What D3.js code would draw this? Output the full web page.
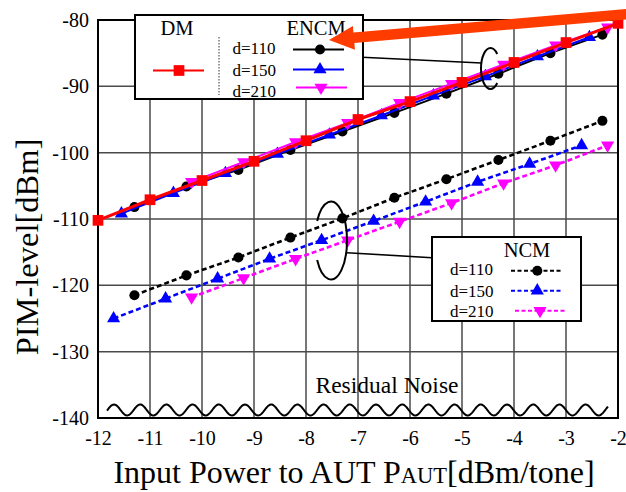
<!DOCTYPE html>
<html>
<head>
<meta charset="utf-8">
<script src="https://cdn.jsdelivr.net/npm/d3@7/dist/d3.min.js"></script>
<style>
  html, body { margin: 0; padding: 0; background: #fff; }
  svg { display: block; font-family: "Liberation Serif", "Times New Roman", serif; }
</style>
</head>
<body>
<svg id="chart" width="626" height="492"></svg>
<script>
// ---------------- data ----------------
const xTicks = [-12, -11, -10, -9, -8, -7, -6, -5, -4, -3, -2];
const yTicks = [-140, -130, -120, -110, -100, -90, -80];

const dmX = [-12, -11, -10, -9, -8, -7, -6, -5, -4, -3, -2];
const dmY = [-110.2, -107.1, -104.2, -101.3, -98.2, -95.0, -92.3, -89.4, -86.4, -83.4, -80.5];

const encm110X = [-11.3, -10.3, -9.3, -8.3, -7.3, -6.3, -5.3, -4.3, -3.3, -2.3];
const encm110Y = [-108.2, -105.1, -102.6, -99.6, -96.8, -94.0, -91.1, -88.1, -85.0, -82.2];
const encm150X = [-11.55, -10.55, -9.55, -8.55, -7.55, -6.55, -5.55, -4.55, -3.55, -2.55];
const encm150Y = [-109.2, -106.1, -103.1, -100.2, -97.3, -94.4, -91.4, -88.5, -85.5, -82.6];
const encm210X = [-10.2, -9.2, -8.2, -7.2, -6.2, -5.2, -4.2, -3.2, -2.2];
const encm210Y = [-104.4, -101.4, -98.4, -95.5, -92.5, -89.6, -86.7, -83.8, -81.1];

const ncm110X = [-11.3, -10.3, -9.3, -8.3, -7.3, -6.3, -5.3, -4.3, -3.3, -2.3];
const ncm110Y = [-121.5, -118.5, -115.8, -112.8, -109.9, -106.8, -104.0, -101.1, -98.2, -95.2];
const ncm150X = [-11.7, -10.7, -9.7, -8.7, -7.7, -6.7, -5.7, -4.7, -3.7, -2.7];
const ncm150Y = [-125.0, -122.0, -119.0, -116.0, -113.2, -110.3, -107.4, -104.4, -101.7, -98.9];
const ncm210X = [-10.2, -9.2, -8.2, -7.2, -6.2, -5.2, -4.2, -3.2, -2.2];
const ncm210Y = [-121.8, -118.9, -116.0, -113.2, -110.4, -107.6, -104.6, -101.9, -98.9];

const legendLabels = ["d=110", "d=150", "d=210"];

// ---------------- layout ----------------
const svg = d3.select("#chart");
const L = 98, R = 618, T = 20, B = 418;
const x = d3.scaleLinear().domain([-12, -2]).range([L, R]);
const y = d3.scaleLinear().domain([-140, -80]).range([B, T]);
const FONT = "'Liberation Serif', 'Times New Roman', serif";

const zip = (xs, ys) => xs.map((v, i) => [v, ys[i]]);

// grid
const grid = svg.append("g");
grid.selectAll("line.v").data(xTicks).join("line")
  .attr("x1", d => x(d)).attr("x2", d => x(d)).attr("y1", T).attr("y2", B)
  .attr("stroke", "#4a4a4a").attr("stroke-width", 1.5);
grid.selectAll("line.h").data(yTicks).join("line")
  .attr("x1", L).attr("x2", R).attr("y1", d => y(d)).attr("y2", d => y(d))
  .attr("stroke", "#4a4a4a").attr("stroke-width", 1.5);

// axes (labels only, via d3 axes)
const xAxis = svg.append("g").attr("transform", `translate(0,${B})`)
  .call(d3.axisBottom(x).tickValues(xTicks).tickSize(0).tickPadding(13).tickFormat(d => String(d)));
const yAxis = svg.append("g").attr("transform", `translate(${L},0)`)
  .call(d3.axisLeft(y).tickValues(yTicks).tickSize(0).tickPadding(9).tickFormat(d => String(d)));
[xAxis, yAxis].forEach(a => {
  a.select(".domain").remove();
  a.selectAll("text").attr("font-family", FONT).attr("font-size", 20).attr("fill", "#000");
});
xAxis.selectAll("text").attr("dy", "0.71em");

// frame
svg.append("rect").attr("x", L).attr("y", T).attr("width", R - L).attr("height", B - T)
  .attr("fill", "none").attr("stroke", "#000").attr("stroke-width", 2);

// residual noise wave (decoration)
const wave = [];
for (let px = 107; px <= 608; px += 1) {
  wave.push([px, 410 - 5.5 * Math.cos(2 * Math.PI * (px - 114) / 26.2)]);
}
svg.append("path").attr("d", d3.line()(wave)).attr("fill", "none")
  .attr("stroke", "#000").attr("stroke-width", 2);
svg.append("text").attr("x", 387).attr("y", 393).attr("text-anchor", "middle")
  .attr("font-family", FONT).attr("font-size", 23.5).text("Residual Noise");

// series drawing
const line = d3.line().x(d => x(d[0])).y(d => y(d[1]));
const sym = {
  circle: d3.symbol().type(d3.symbolCircle).size(80),
  up: d3.symbol().type(d3.symbolTriangle).size(75),
  down: d3.symbol().type(d3.symbolTriangle).size(75),
  square: d3.symbol().type(d3.symbolSquare).size(115)
};
function drawSeries(pts, color, marker, dashed, width) {
  const g = svg.append("g");
  g.append("path").attr("d", line(pts)).attr("fill", "none").attr("stroke", color)
    .attr("stroke-width", width).attr("stroke-dasharray", dashed ? "5,3" : null);
  g.selectAll("path.m").data(pts).join("path").attr("class", "m")
    .attr("d", sym[marker]())
    .attr("transform", d => `translate(${x(d[0])},${y(d[1])})${marker === "down" ? " rotate(180)" : ""}`)
    .attr("fill", color);
}

drawSeries(zip(ncm110X, ncm110Y), "#000", "circle", true, 2.6);
drawSeries(zip(ncm150X, ncm150Y), "#0000ff", "up", true, 2.6);
drawSeries(zip(ncm210X, ncm210Y), "#ff00ff", "down", true, 2.6);
drawSeries(zip(encm110X, encm110Y), "#000", "circle", false, 2);
drawSeries(zip(encm150X, encm150Y), "#0000ff", "up", false, 2);
drawSeries(zip(encm210X, encm210Y), "#ff00ff", "down", false, 2);
drawSeries(zip(dmX, dmY), "#ff0000", "square", false, 3);

// ellipses + connectors
function openEllipse(cx, cy, rx, ry, a0, a1, sweep) {
  const p = a => [cx + rx * Math.cos(a * Math.PI / 180), cy + ry * Math.sin(a * Math.PI / 180)];
  const s = p(a0), e = p(a1);
  return `M${s[0]},${s[1]} A${rx},${ry} 0 1 ${sweep} ${e[0]},${e[1]}`;
}
svg.append("path").attr("d", openEllipse(490.5, 68.5, 9.5, 20.5, -45, 45, 0))
  .attr("fill", "none").attr("stroke", "#000").attr("stroke-width", 2);
svg.append("line").attr("x1", 362).attr("y1", 57.3).attr("x2", 481.5).attr("y2", 63)
  .attr("stroke", "#000").attr("stroke-width", 1.6);
svg.append("path").attr("d", openEllipse(331, 240.5, 16, 39, -150, 150, 1))
  .attr("fill", "none").attr("stroke", "#000").attr("stroke-width", 2);
svg.append("line").attr("x1", 347).attr("y1", 252.7).attr("x2", 432).attr("y2", 257.7)
  .attr("stroke", "#000").attr("stroke-width", 1.6);

// ENCM / DM legend
const lg = svg.append("g");
lg.append("rect").attr("x", 135).attr("y", 15).attr("width", 228).attr("height", 84)
  .attr("fill", "#fff").attr("stroke", "#000").attr("stroke-width", 2);
lg.append("text").attr("x", 177).attr("y", 35).attr("text-anchor", "middle")
  .attr("font-family", FONT).attr("font-size", 20.5).text("DM");
lg.append("text").attr("x", 316).attr("y", 35).attr("text-anchor", "middle")
  .attr("font-family", FONT).attr("font-size", 20.5).text("ENCM");
lg.append("line").attr("x1", 219).attr("x2", 219).attr("y1", 37).attr("y2", 95)
  .attr("stroke", "#333").attr("stroke-width", 1).attr("stroke-dasharray", "1.5,1.5");
lg.append("line").attr("x1", 153).attr("x2", 204).attr("y1", 70.5).attr("y2", 70.5)
  .attr("stroke", "#ff0000").attr("stroke-width", 2);
lg.append("path").attr("d", sym.square()).attr("transform", "translate(179,70.5)").attr("fill", "#ff0000");

const encmLeg = [
  { c: "#000", m: "circle", y: 49.5, x0: 293, x1: 344, mx: 320, ty: 54 },
  { c: "#0000ff", m: "up", y: 69.5, x0: 293, x1: 344, mx: 320, ty: 76 },
  { c: "#ff00ff", m: "down", y: 87.5, x0: 296, x1: 347, mx: 321, ty: 96.5 }
];
encmLeg.forEach((e, i) => {
  lg.append("text").attr("x", 232.5).attr("y", e.ty).attr("font-family", FONT)
    .attr("font-size", 17).text(legendLabels[i]);
  lg.append("line").attr("x1", e.x0).attr("x2", e.x1).attr("y1", e.y).attr("y2", e.y)
    .attr("stroke", e.c).attr("stroke-width", 2);
  lg.append("path").attr("d", sym[e.m]())
    .attr("transform", `translate(${e.mx},${e.y})${e.m === "down" ? " rotate(180)" : ""}`).attr("fill", e.c);
});

// NCM legend
const ng = svg.append("g");
ng.append("rect").attr("x", 432).attr("y", 237).attr("width", 149).attr("height", 84)
  .attr("fill", "#fff").attr("stroke", "#000").attr("stroke-width", 2);
ng.append("text").attr("x", 527).attr("y", 256.5).attr("text-anchor", "middle")
  .attr("font-family", FONT).attr("font-size", 20.5).text("NCM");
const ncmLeg = [
  { c: "#000", m: "circle", y: 270.7, x0: 511, x1: 563, mx: 537.3, ty: 275 },
  { c: "#0000ff", m: "up", y: 290.7, x0: 511, x1: 563, mx: 537.3, ty: 296.5 },
  { c: "#ff00ff", m: "down", y: 310.7, x0: 515, x1: 567, mx: 540, ty: 316.5 }
];
ncmLeg.forEach((e, i) => {
  ng.append("text").attr("x", 450).attr("y", e.ty).attr("font-family", FONT)
    .attr("font-size", 17).text(legendLabels[i]);
  ng.append("line").attr("x1", e.x0).attr("x2", e.x1).attr("y1", e.y).attr("y2", e.y)
    .attr("stroke", e.c).attr("stroke-width", 2).attr("stroke-dasharray", "4,2.5");
  ng.append("path").attr("d", sym[e.m]())
    .attr("transform", `translate(${e.mx},${e.y})${e.m === "down" ? " rotate(180)" : ""}`).attr("fill", e.c);
});

// big arrow
(function () {
  const tip = [329, 40], tail = [640, 13];
  const dx = tail[0] - tip[0], dy = tail[1] - tip[1], len = Math.hypot(dx, dy);
  const u = [dx / len, dy / len], n = [-u[1], u[0]];
  const hl = 25, hw = 12, sw = 5.3;
  const b = [tip[0] + hl * u[0], tip[1] + hl * u[1]];
  const pts = [
    tip,
    [b[0] + hw * n[0], b[1] + hw * n[1]],
    [b[0] + sw * n[0], b[1] + sw * n[1]],
    [tail[0] + sw * n[0], tail[1] + sw * n[1]],
    [tail[0] - sw * n[0], tail[1] - sw * n[1]],
    [b[0] - sw * n[0], b[1] - sw * n[1]],
    [b[0] - hw * n[0], b[1] - hw * n[1]]
  ];
  svg.append("path").attr("d", "M" + pts.map(p => p.join(",")).join("L") + "Z").attr("fill", "#ff3c00");
})();

// axis titles
svg.append("text").attr("transform", "translate(38,247) rotate(-90)").attr("text-anchor", "middle")
  .attr("font-family", FONT).attr("font-size", 32.5).text("PIM-level[dBm]");
const xt = svg.append("text").attr("x", 354).attr("y", 483).attr("text-anchor", "middle")
  .attr("font-family", FONT).attr("font-size", 32);
xt.append("tspan").text("Input Power to AUT P");
xt.append("tspan").attr("font-size", 22.5).text("AUT");
xt.append("tspan").text("[dBm/tone]");
</script>
</body>
</html>
